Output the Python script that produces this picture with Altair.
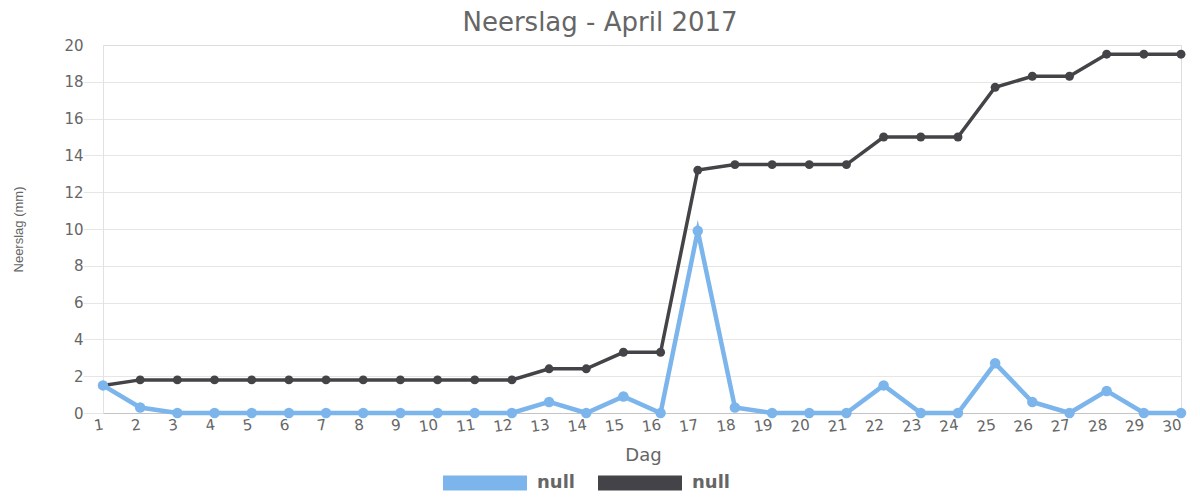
import altair as alt
import pandas as pd

days = list(range(1, 31))
daily = [1.5, 0.3, 0, 0, 0, 0, 0, 0, 0, 0, 0, 0, 0.6, 0, 0.9, 0, 9.9, 0.3, 0, 0,
         0, 1.5, 0, 0, 2.7, 0.6, 0, 1.2, 0, 0]
cumulative = [1.5, 1.8, 1.8, 1.8, 1.8, 1.8, 1.8, 1.8, 1.8, 1.8, 1.8, 1.8, 2.4, 2.4, 3.3,
              3.3, 13.2, 13.5, 13.5, 13.5, 13.5, 15.0, 15.0, 15.0, 17.7, 18.3, 18.3, 19.5,
              19.5, 19.5]
series_names = ["Dagelijks", "Cumulatief"]
series_colors = ["#7cb5ec", "#434348"]
y_ticks = list(range(0, 21, 2))

df = pd.DataFrame({
    "Dag": days * 2,
    "Neerslag": daily + cumulative,
    "Reeks": [series_names[0]] * 30 + [series_names[1]] * 30,
})

FONT = "DejaVu Sans"
GREY = "#666666"

x_enc = alt.X(
    "Dag:Q",
    scale=alt.Scale(domain=[1, 30], nice=False, zero=False),
    axis=alt.Axis(
        values=days, title="Dag", grid=False, ticks=False,
        labelAngle=352, labelAlign="right", labelBaseline="middle", labelPadding=11,
        labelFont=FONT, labelFontSize=15, labelColor=GREY,
        domainColor="#c4c4c4", domainWidth=1,
        titleFont=FONT, titleFontSize=18, titleFontWeight="normal", titleColor=GREY,
        titleY=47, titleBaseline="alphabetic", titleX=540,
        labelOverlap=False, labelFlush=False,
    ),
)
y_enc = alt.Y(
    "Neerslag:Q",
    scale=alt.Scale(domain=[0, 20], nice=False),
    axis=alt.Axis(
        values=y_ticks, title="Neerslag (mm)",
        tickSize=20, labelPadding=0,
        gridColor={"condition": {"test": "datum.value === 20", "value": "transparent"},
                   "value": "#e6e6e6"},
        tickColor={"condition": {"test": "datum.value === 20", "value": "transparent"},
                   "value": "#e6e6e6"},
        domainColor="#e2e2e2",
        labelFont=FONT, labelFontSize=15, labelColor=GREY, labelBaseline="middle",
        titleFont="Liberation Sans", titleFontSize=13, titleFontWeight="normal",
        titleColor=GREY, titleX=-85, titleY=184, titleAngle=270,
        titleBaseline="middle", titleAlign="center",
    ),
)
color_enc = alt.Color(
    "Reeks:N",
    scale=alt.Scale(domain=series_names, range=series_colors),
    sort=series_names,
    legend=alt.Legend(
        title=None, orient="none", direction="horizontal", columns=2,
        legendX=340, legendY=396,
        symbolType="M-1,-0.18L1,-0.18L1,0.18L-1,0.18Z", symbolSize=7056,
        symbolStrokeWidth=0, symbolOpacity=1,
        labelExpr="'null'", labelFont=FONT, labelFontSize=18, labelColor=GREY,
        labelFontWeight="bold", labelOffset=10, columnPadding=23, padding=0,
    ),
)

base = alt.Chart(df)
dark = base.transform_filter(alt.datum.Reeks == series_names[1])
blue = base.transform_filter(alt.datum.Reeks == series_names[0])

dark_line = dark.mark_line(strokeWidth=3.5).encode(x=x_enc, y=y_enc, color=color_enc)
dark_pts = dark.mark_circle(size=80, opacity=1).encode(x=x_enc, y=y_enc, color=color_enc)
blue_line = blue.mark_line(strokeWidth=4.5, strokeJoin="miter", strokeMiterLimit=10).encode(
    x=x_enc, y=y_enc, color=color_enc)
blue_pts = blue.mark_circle(size=110, opacity=1).encode(x=x_enc, y=y_enc, color=color_enc)

chart = alt.layer(dark_line, dark_pts, blue_line, blue_pts).properties(
    width=1078, height=368,
    autosize=alt.AutoSizeParams(type="none"),
    padding={"left": 95, "top": 37, "right": 11, "bottom": 79},
    title=alt.TitleParams(
        "Neerslag - April 2017", font=FONT, fontSize=26, fontWeight="normal",
        color=GREY, anchor="middle", dx=-42, dy=27, offset=8, baseline="alphabetic",
    ),
).configure_view(stroke=None).configure(background="white")

chart.save("out.html", embed_options={"renderer": "svg", "actions": False})
